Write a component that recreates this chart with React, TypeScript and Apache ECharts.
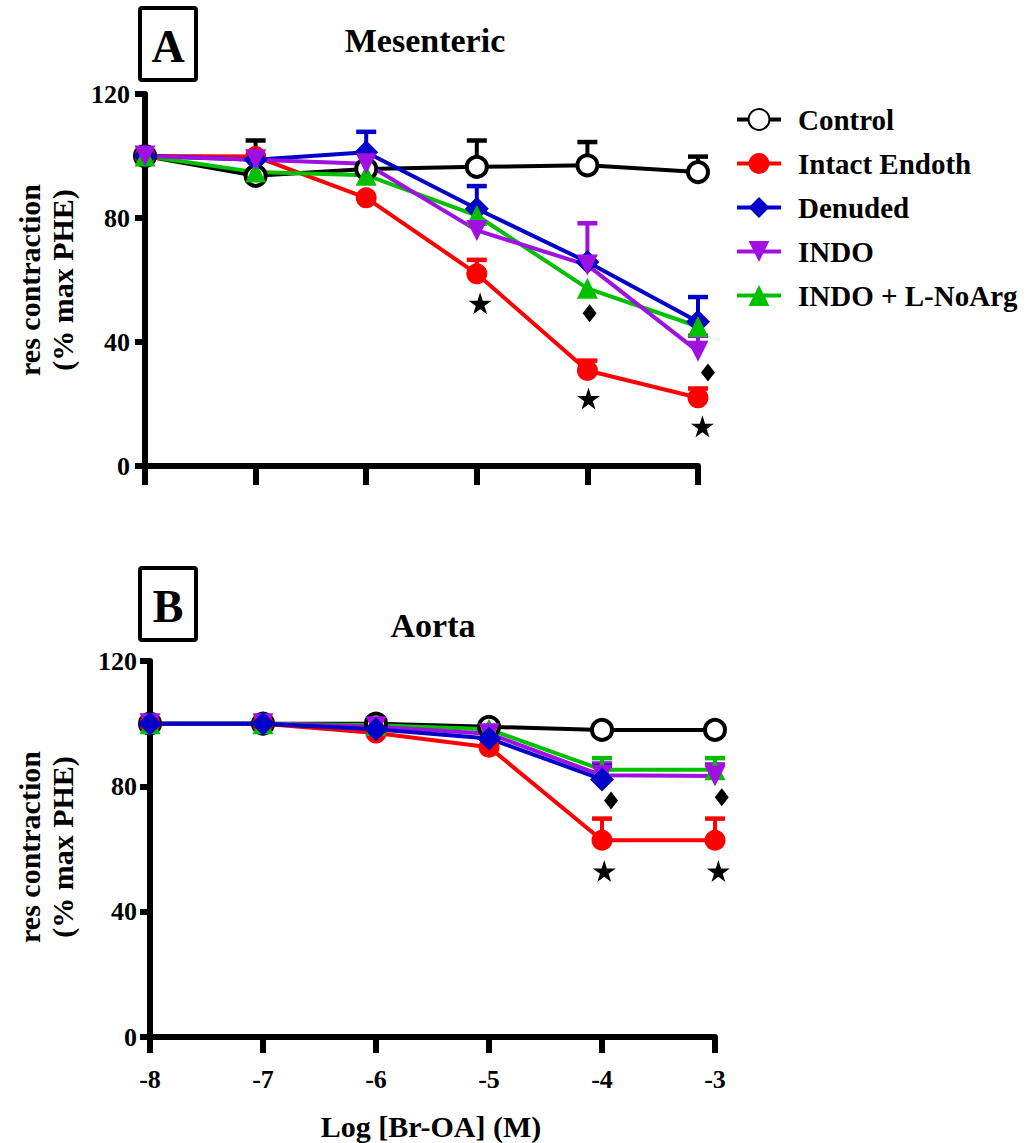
import React, { useEffect, useRef } from "react";
import * as echarts from "echarts";

const xs = [-8, -7, -6, -5, -4, -3];
const seriesNames = ["Control", "Intact Endoth", "Denuded", "INDO", "INDO + L-NoArg"];
const yTicks = [0, 40, 80, 120];

// Panel A: Mesenteric
const controlA = [100, 93.6, 95.8, 96.5, 97, 94.8];
const intactA = [100, 99.8, 86.5, 62, 30.8, 22];
const denudedA = [100, 98.8, 101.2, 83, 65.8, 46.5];
const indoA = [100, 98.8, 97.5, 76, 64.8, 37];
const indoLA = [100, 94.8, 93.8, 80.8, 57.3, 45];
const controlAErr = [null, 105, null, 105, 104.5, 99.8];
const intactAErr = [null, null, null, 66.5, 34, 25];
const denudedAErr = [null, null, 107.8, 90.3, null, 54.5];
const indoAErr = [null, null, null, null, 78.3, 42];
const indoLAErr = [null, null, null, null, null, null];
const starsA = [[-4.97, 52.5], [-3.99, 21.8], [-2.96, 12.8]];
const diamondsA = [[-3.98, 49.3], [-2.91, 30.2]];

// Panel B: Aorta
const controlB = [100, 100, 100, 99, 98, 98];
const intactB = [100, 100, 97, 92.5, 62.8, 62.8];
const denudedB = [100, 100, 98.2, 95.3, 82.2, null];
const indoB = [100, 100, 99, 96.8, 83.5, 83.3];
const indoLB = [100, 100, 99.5, 98.2, 85.3, 85.3];
const controlBErr = [null, null, null, null, null, null];
const intactBErr = [null, null, null, null, 69.7, 69.7];
const denudedBErr = [null, null, null, null, 86.5, null];
const indoBErr = [null, null, null, null, 87.3, 87];
const indoLBErr = [null, null, null, null, 89, 89];
const starsB = [[-3.98, 53], [-2.97, 53]];
const diamondsB = [[-3.92, 75.5], [-2.94, 76.5]];

const FONT = "Liberation Serif";
const STAR = "path://M50,0 L61,35 L98,35 L68,57 L79,91 L50,70 L21,91 L32,57 L2,35 L39,35 Z";

const styles: Record<string, any> = {
  Control: { color: "#000000", symbol: "circle", fill: "#ffffff", border: 4, size: 20, rotate: 0 },
  "Intact Endoth": { color: "#ff0000", symbol: "circle", fill: "#ff0000", border: 0, size: 21, rotate: 0 },
  Denuded: { color: "#0000c8", symbol: "diamond", fill: "#0000c8", border: 0, size: 24, rotate: 0 },
  INDO: { color: "#a010e0", symbol: "triangle", fill: "#a010e0", border: 0, size: 21, rotate: 180 },
  "INDO + L-NoArg": { color: "#00c000", symbol: "triangle", fill: "#00c000", border: 0, size: 21, rotate: 0 },
};

function lineSeries(name: string, vals: (number | null)[], idx: number) {
  const s = styles[name];
  const data: number[][] = [];
  xs.forEach((x, i) => {
    const v = vals[i];
    if (v != null) data.push([x, v]);
  });
  return {
    type: "line",
    name,
    xAxisIndex: idx,
    yAxisIndex: idx,
    data,
    symbol: s.symbol,
    symbolSize: s.size,
    symbolRotate: s.rotate,
    showAllSymbol: true,
    lineStyle: { color: s.color, width: 4 },
    itemStyle: { color: s.fill, borderColor: s.color, borderWidth: s.border, opacity: 1 },
    z: 3,
    clip: false,
  };
}

function errSeries(name: string, vals: (number | null)[], errs: (number | null)[], idx: number) {
  const color = styles[name].color;
  const data: number[][] = [];
  xs.forEach((x, i) => {
    const e = errs[i];
    const v = vals[i];
    if (e != null && v != null) data.push([x, v, e]);
  });
  return {
    type: "custom",
    name: "err-" + name + idx,
    xAxisIndex: idx,
    yAxisIndex: idx,
    data,
    z: 2,
    clip: false,
    renderItem: (params: any, api: any) => {
      const x = api.value(0);
      const p0 = api.coord([x, api.value(1)]);
      const p1 = api.coord([x, api.value(2)]);
      return {
        type: "group",
        children: [
          { type: "line", shape: { x1: p0[0], y1: p0[1], x2: p1[0], y2: p1[1] }, style: { stroke: color, lineWidth: 4 } },
          { type: "line", shape: { x1: p1[0] - 10, y1: p1[1], x2: p1[0] + 10, y2: p1[1] }, style: { stroke: color, lineWidth: 4.5 } },
        ],
      };
    },
  };
}

function sigSeries(points: number[][], symbol: string, size: number[], idx: number) {
  return {
    type: "scatter",
    name: "sig" + symbol.length + idx,
    xAxisIndex: idx,
    yAxisIndex: idx,
    data: points,
    symbol,
    symbolSize: size,
    itemStyle: { color: "#000000", opacity: 1 },
    z: 4,
    clip: false,
  };
}

function xAxis(idx: number, showLabels: boolean, tickLen: number) {
  return {
    type: "value",
    gridIndex: idx,
    min: -8,
    max: -3,
    interval: 1,
    axisLine: { show: true, onZero: false, lineStyle: { color: "#000", width: 6 } },
    axisTick: { show: true, inside: false, length: tickLen, lineStyle: { color: "#000", width: 6 } },
    axisLabel: {
      show: showLabels,
      margin: 29,
      color: "#000",
      fontFamily: FONT,
      fontWeight: "bold",
      fontSize: 26,
    },
    splitLine: { show: false },
  };
}

function yAxis(idx: number, margin: number) {
  return {
    type: "value",
    gridIndex: idx,
    min: yTicks[0],
    max: yTicks[yTicks.length - 1],
    interval: 40,
    axisLine: { show: true, lineStyle: { color: "#000", width: 6 } },
    axisTick: { show: true, length: 10, lineStyle: { color: "#000", width: 6 } },
    axisLabel: {
      margin,
      color: "#000",
      fontFamily: FONT,
      fontWeight: "bold",
      fontSize: 26,
    },
    splitLine: { show: false },
  };
}

export default function App() {
  const ref = useRef<HTMLDivElement>(null);
  useEffect(() => {
    if (!ref.current) return;
    const chart = echarts.init(ref.current, null, { renderer: "svg" });
    const aVals = [controlA, intactA, denudedA, indoA, indoLA];
    const aErrs = [controlAErr, intactAErr, denudedAErr, indoAErr, indoLAErr];
    const bVals = [controlB, intactB, denudedB, indoB, indoLB];
    const bErrs = [controlBErr, intactBErr, denudedBErr, indoBErr, indoLBErr];
    const orderA = [0, 1, 2, 4, 3];
    const orderB = [0, 1, 4, 3, 2];
    const series: any[] = [];
    orderA.forEach((i) => series.push(errSeries(seriesNames[i], aVals[i], aErrs[i], 0)));
    orderB.forEach((i) => series.push(errSeries(seriesNames[i], bVals[i], bErrs[i], 1)));
    orderA.forEach((i) => series.push(lineSeries(seriesNames[i], aVals[i], 0)));
    orderB.forEach((i) => series.push(lineSeries(seriesNames[i], bVals[i], 1)));
    series.push(sigSeries(starsA, STAR, [23, 22], 0));
    series.push(sigSeries(diamondsA, "diamond", [14, 18], 0));
    series.push(sigSeries(starsB, STAR, [23, 22], 1));
    series.push(sigSeries(diamondsB, "diamond", [14, 18], 1));

    const titleStyle = { fontFamily: FONT, fontWeight: "bold", fontSize: 34, fill: "#000" };
    const yNameStyle = { fontFamily: FONT, fontWeight: "bold", fontSize: 30, fill: "#000", lineHeight: 33 };

    chart.setOption({
      animation: false,
      backgroundColor: "#ffffff",
      grid: [
        { left: 145, top: 94, width: 553, height: 372 },
        { left: 150, top: 661, width: 565, height: 376 },
      ],
      xAxis: [xAxis(0, false, 19), xAxis(1, true, 16)],
      yAxis: [yAxis(0, 15), yAxis(1, 13)],
      legend: {
        data: seriesNames,
        orient: "vertical",
        left: 730,
        top: 100,
        itemWidth: 44,
        itemHeight: 26,
        itemGap: 15,
        lineStyle: { width: 4 },
        textStyle: { fontFamily: FONT, fontWeight: "bold", fontSize: 29, color: "#000", padding: [0, 0, 0, 12] },
      },
      graphic: [
        { type: "rect", shape: { x: 140, y: 8, width: 56, height: 72, r: 2 }, style: { fill: "#fff", stroke: "#000", lineWidth: 4 } },
        { type: "text", x: 168, y: 46, style: { text: "A", fontFamily: FONT, fontWeight: "bold", fontSize: 46, fill: "#000", textAlign: "center", textVerticalAlign: "middle" } },
        { type: "rect", shape: { x: 140, y: 568, width: 56, height: 72, r: 2 }, style: { fill: "#fff", stroke: "#000", lineWidth: 4 } },
        { type: "text", x: 168, y: 606, style: { text: "B", fontFamily: FONT, fontWeight: "bold", fontSize: 46, fill: "#000", textAlign: "center", textVerticalAlign: "middle" } },
        { type: "text", x: 425, y: 40, style: { text: "Mesenteric", ...titleStyle, textAlign: "center", textVerticalAlign: "middle" } },
        { type: "text", x: 433, y: 625, style: { text: "Aorta", ...titleStyle, textAlign: "center", textVerticalAlign: "middle" } },
        { type: "text", x: 46, y: 280, rotation: Math.PI / 2, style: { text: "res contraction\n(% max PHE)", ...yNameStyle, textAlign: "center", textVerticalAlign: "middle" } },
        { type: "text", x: 46, y: 847, rotation: Math.PI / 2, style: { text: "res contraction\n(% max PHE)", ...yNameStyle, textAlign: "center", textVerticalAlign: "middle" } },
        { type: "text", x: 431, y: 1126, style: { text: "Log [Br-OA] (M)", fontFamily: FONT, fontWeight: "bold", fontSize: 30, fill: "#000", textAlign: "center", textVerticalAlign: "middle" } },
      ],
      series,
    });
    return () => chart.dispose();
  }, []);
  return <div ref={ref} style={{ position: "fixed", left: 0, top: 0, width: 1034, height: 1143 }} />;
}
